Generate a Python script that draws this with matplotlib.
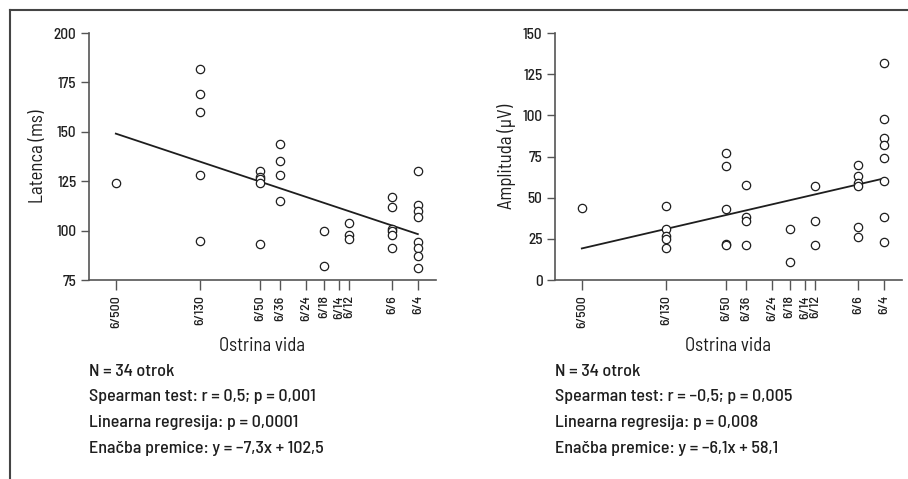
import numpy as np
import matplotlib
matplotlib.use("Agg")
import matplotlib.pyplot as plt
from matplotlib.lines import Line2D

plt.rcParams["font.family"] = ["Barlow Semi Condensed", "Barlow Condensed", "DejaVu Sans"]
plt.rcParams["font.weight"] = "medium"

# acuity categories (6/x)
denoms = [500, 130, 50, 36, 24, 18, 14, 12, 6, 4]
tick_labels = ["6/%d" % d for d in denoms]

# latency (ms) per child, with acuity denominator
lat_acuity = [500,
              130, 130, 130, 130, 130,
              50, 50, 50, 50, 50,
              36, 36, 36, 36,
              18, 18,
              12, 12, 12,
              6, 6, 6, 6, 6, 6,
              4, 4, 4, 4, 4, 4, 4, 4]
lat_values = [124,
              182, 169, 160, 128, 95,
              130, 127, 126, 124, 93,
              144, 135, 128, 115,
              100, 82,
              104, 98, 96,
              117, 112, 101, 100, 98, 91,
              130, 113, 110, 107, 94, 91, 87, 81]

# amplitude (uV) per child
amp_acuity = [500,
              130, 130, 130, 130, 130,
              50, 50, 50, 50, 50,
              36, 36, 36, 36,
              18, 18,
              12, 12, 12,
              6, 6, 6, 6, 6, 6,
              4, 4, 4, 4, 4, 4, 4, 4]
amp_values = [44,
              45, 31, 27, 25, 19.5,
              77, 69, 43, 22, 21,
              58, 38, 36, 21,
              31, 11,
              57, 36, 21,
              70, 63, 59, 57, 32, 26,
              132, 98, 86, 82, 74, 60, 38, 23]

# regression lines (x = log2 of decimal acuity)
lat_fit = (-7.3, 102.5)
amp_fit = (6.1, 58.1)

lat_text = ["N = 34 otrok",
            "Spearman test: r = 0,5; p = 0,001",
            "Linearna regresija: p = 0,0001",
            "Enačba premice: y = \u20137,3x + 102,5"]
amp_text = ["N = 34 otrok",
            "Spearman test: r = \u20130,5; p = 0,005",
            "Linearna regresija: p = 0,008",
            "Enačba premice: y = \u20136,1x + 58,1"]


def to_x(d):
    return np.log2(6.0 / np.asarray(d, dtype=float))


ink = "#1e1e1e"
fig = plt.figure(figsize=(9.08, 4.79), dpi=100)


def panel(left, acuity, values, fit, ylim, yticks, ylabel, lines):
    ax = fig.add_axes([left, 0.4154, 0.382, 0.5157])
    ax.plot(to_x(acuity), values, "o", mfc="white", mec=ink, ms=6, mew=0.9,
            zorder=3)
    xl = to_x([denoms[0], denoms[-1]])
    ax.plot(xl, fit[0] * xl + fit[1], color=ink, lw=1.3, zorder=2)
    ax.set_xlim(-7, 1)
    ax.set_ylim(*ylim)
    ax.set_yticks(yticks)
    ax.set_xticks(to_x(denoms))
    ax.set_xticklabels(tick_labels, rotation=90, fontsize=10)
    ax.tick_params(axis="y", labelsize=11, length=6, width=1, color="#555555",
                   labelcolor=ink, pad=3)
    ax.tick_params(axis="x", length=7, width=1, color="#555555",
                   labelcolor=ink, pad=4)
    for s in ["top", "right"]:
        ax.spines[s].set_visible(False)
    for s in ["left", "bottom"]:
        ax.spines[s].set_color("#555555")
        ax.spines[s].set_linewidth(1.2)
    ax.set_ylabel(ylabel, fontsize=13.5, color=ink, labelpad=5)
    ax.set_xlabel("Ostrina vida", fontsize=13.5, color=ink, labelpad=6)
    for i, t in enumerate(lines):
        fig.text(left, 1 - (371 + 26 * i) / 479.0, t, fontsize=13, color=ink,
                 va="center", ha="left")
    return ax


panel(0.098, lat_acuity, lat_values, lat_fit, (75, 200),
      [75, 100, 125, 150, 175, 200], "Latenca (ms)", lat_text)
panel(0.6112, amp_acuity, amp_values, amp_fit, (0, 150),
      [0, 25, 50, 75, 100, 125, 150], "Amplituda (\u03bcV)", amp_text)

# outer frame (top and left edge)
fig.add_artist(Line2D([10 / 908, 1], [1 - 10 / 479, 1 - 10 / 479],
                      color="#444444", lw=1.5, transform=fig.transFigure))
fig.add_artist(Line2D([10 / 908, 10 / 908], [0, 1 - 10 / 479],
                      color="#444444", lw=1.5, transform=fig.transFigure))

fig.savefig("out.png", dpi=100)
